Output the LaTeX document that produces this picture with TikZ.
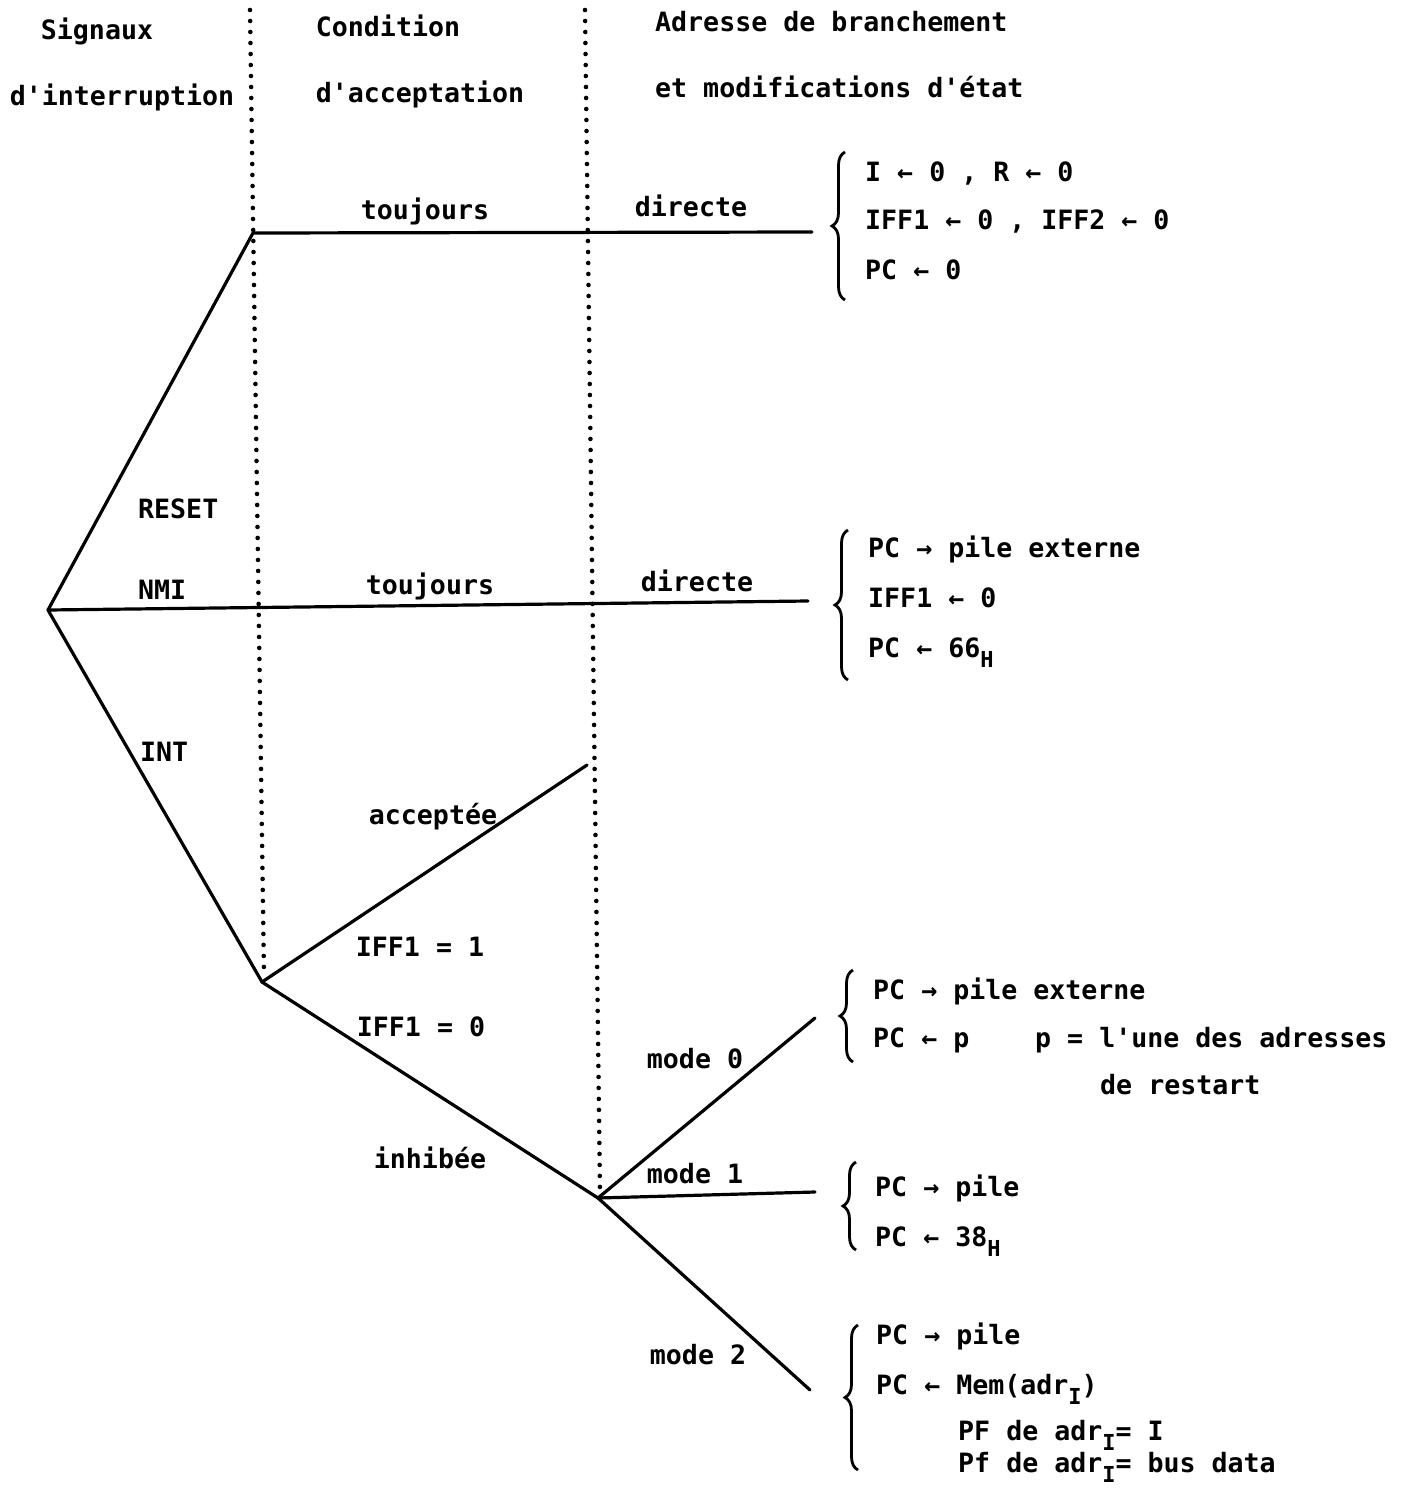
\documentclass[tikz,border=0pt]{standalone}
\usepackage{fontspec}
\setmainfont{DejaVu Sans Mono}[Ligatures=TeXOff]
\usetikzlibrary{decorations.pathreplacing}
\newcommand\lowsub[1]{\raisebox{-0.4em}{\fontsize{22}{22}\selectfont #1}}
\begin{document}
\begin{tikzpicture}[x=1pt,y=-1pt,
  branch/.style={line width=3.2pt, line cap=round, line join=round},
  guide/.style={line width=4.6pt, dash pattern=on 0pt off 11pt, line cap=round},
  txt/.style={inner sep=0pt, font=\fontsize{26.6}{32}\selectfont\bfseries, anchor=base},
  lft/.style={txt, anchor=base west},
  bracepath/.style={decorate, decoration={brace, amplitude=13pt}, line width=2.8pt}]
\useasboundingbox (0,0) rectangle (1406,1488);

% guides (dotted column separators)
\coordinate (g1t) at (250,10);
\coordinate (g1b) at (264,975);
\coordinate (g2t) at (585,10);
\coordinate (g2b) at (600,1192);
\draw[guide] (g1t) -- (g1b);
\draw[guide] (g2t) -- (g2b);

% branch points
\coordinate (root) at (48,610);
\coordinate (rk) at (253,233);
\coordinate (re) at (812,232);
\coordinate (ne) at (808,601);
\coordinate (ik) at (262,982);
\coordinate (ae) at (587,765);
\coordinate (mk) at (598,1198);
\coordinate (m0) at (815,1018);
\coordinate (m1) at (815,1192);
\coordinate (m2) at (810,1390);

\draw[branch] (root) -- (rk) -- (re);
\draw[branch] (root) -- (ne);
\draw[branch] (root) -- (ik);
\draw[branch] (ik) -- (ae);
\draw[branch] (ik) -- (mk);
\draw[branch] (mk) -- (m0);
\draw[branch] (mk) -- (m1);
\draw[branch] (mk) -- (m2);

% headers
\node[txt] (h1a) at (97,40) {Signaux};
\node[txt] (h1b) at (122,105) {d'interruption};
\node[txt] (h2a) at (388,37) {Condition};
\node[txt] (h2b) at (420,102) {d'acceptation};
\node[lft] (h3a) at (655,32) {Adresse de branchement};
\node[lft] (h3b) at (655,97) {et modifications d'état};

% branch labels
\node[txt] (t1) at (425,219) {toujours};
\node[txt] (d1) at (691,216) {directe};
\node[lft] (lreset) at (138,518) {RESET};
\node[lft] (lnmi) at (138,599) {NMI};
\node[txt] (t2) at (430,594) {toujours};
\node[txt] (d2) at (697,591) {directe};
\node[lft] (lint) at (140,761) {INT};
\node[txt] (acc) at (433,824) {acceptée};
\node[txt] (iff1) at (420,956) {IFF1 = 1};
\node[txt] (iff0) at (421,1036) {IFF1 = 0};
\node[txt] (inh) at (430,1168) {inhibée};
\node[txt] (lm0) at (695,1068) {mode 0};
\node[txt] (lm1) at (695,1183) {mode 1};
\node[txt] (lm2) at (698,1364) {mode 2};

% brace 1
\draw[bracepath] (845,300) -- (845,152);
\node[lft] (a1) at (865,181) {I ← 0 , R ← 0};
\node[lft] (a2) at (865,229) {IFF1 ← 0 , IFF2 ← 0};
\node[lft] (a3) at (865,279) {PC ← 0};

% brace 2
\draw[bracepath] (848,680) -- (848,530);
\node[lft] (b1) at (868,557) {PC → pile externe};
\node[lft] (b2) at (868,607) {IFF1 ← 0};
\node[lft] (b3) at (868,657) {PC ← 66\lowsub{H}};

% brace 3
\draw[bracepath] (853,1062) -- (853,970);
\node[lft] (c1) at (873,999) {PC → pile externe};
\node[lft] (c2) at (873,1047) {PC ← p};
\node[lft] (c3) at (1035,1047) {p = l'une des adresses};
\node[lft] (c4) at (1100,1094) {de restart};

% brace 4
\draw[bracepath] (856,1250) -- (856,1162);
\node[lft] (e1) at (875,1196) {PC → pile};
\node[lft] (e2) at (875,1246) {PC ← 38\lowsub{H}};

% brace 5
\draw[bracepath] (858,1470) -- (858,1325);
\node[lft] (f1) at (876,1344) {PC → pile};
\node[lft] (f2) at (876,1394) {PC ← Mem(adr\lowsub{I})};
\node[lft] (f3) at (958,1440) {PF de adr\lowsub{I}= I};
\node[lft] (f4) at (958,1472) {Pf de adr\lowsub{I}= bus data};
\end{tikzpicture}
\end{document}
